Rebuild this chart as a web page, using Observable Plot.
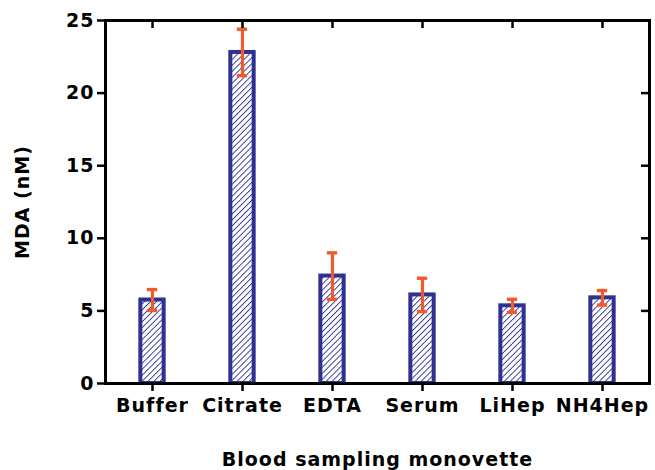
<!DOCTYPE html>
<html>
<head>
<meta charset="utf-8">
<script src="https://cdn.jsdelivr.net/npm/d3@7"></script>
<script src="https://cdn.jsdelivr.net/npm/@observablehq/plot@0.6"></script>
<style>
  html, body { margin: 0; padding: 0; background: #fff; }
</style>
</head>
<body>
<div id="chart"></div>
<script>
const categories = ["Buffer", "Citrate", "EDTA", "Serum", "LiHep", "NH4Hep"];
const means = [5.75, 22.8, 7.4, 6.1, 5.35, 5.9];
const errors = [0.72, 1.6, 1.6, 1.15, 0.45, 0.5];
const yTicks = [0, 5, 10, 15, 20, 25];

const data = categories.map((c, i) => ({cat: c, v: means[i], e: errors[i]}));

const blue = "#2e3192";
const orange = "#f15a29";
const W = 655, H = 470, mL = 105, mR = 6, mT = 20, mB = 87;
const step = (W - mL - mR) / categories.length;
const barInset = (step - 24) / 2;
const capInset = (step - 11) / 2;

const chart = Plot.plot({
  width: W,
  height: H,
  marginLeft: mL,
  marginRight: mR,
  marginTop: mT,
  marginBottom: mB,
  style: {fontFamily: "DejaVu Sans", fontWeight: "bold", fontSize: "19px", letterSpacing: "1px", color: "black", background: "white"},
  x: {domain: categories, padding: 0},
  y: {domain: [0, 25]},
  marks: [
    Plot.barY(data, {x: "cat", y: "v", fill: "url(#hatch)", stroke: blue, strokeWidth: 4, insetLeft: barInset, insetRight: barInset}),
    Plot.ruleX(data, {x: "cat", y1: d => d.v - d.e, y2: d => d.v + d.e, stroke: orange, strokeWidth: 3.2}),
    Plot.tickY(data, {x: "cat", y: d => d.v + d.e, stroke: orange, strokeWidth: 3.4, insetLeft: capInset, insetRight: capInset}),
    Plot.tickY(data, {x: "cat", y: d => d.v - d.e, stroke: orange, strokeWidth: 3.4, insetLeft: capInset, insetRight: capInset}),
    Plot.frame({stroke: "black", strokeWidth: 3}),
    Plot.tickY(yTicks, {y: d => d, stroke: "black", strokeWidth: 2.5, insetLeft: W - mL - mR - 8}),
    Plot.tickX(categories, {x: d => d, stroke: "black", strokeWidth: 2.5, insetBottom: H - mT - mB - 8}),
    Plot.axisY({ticks: yTicks, tickSize: 8, tickPadding: 3, strokeWidth: 2.5, fontSize: 19, fontWeight: "bold",
      label: "MDA (nM)", labelAnchor: "center", labelArrow: "none", labelOffset: 90}),
    Plot.axisX({tickSize: 8, tickPadding: 7, strokeWidth: 2.5, fontSize: 19, fontWeight: "bold",
      label: "Blood sampling monovette", labelAnchor: "center", labelArrow: "none", labelOffset: 82})
  ]
});

const svg = d3.select(chart);
const defs = svg.insert("defs", ":first-child");
const pat = defs.append("pattern")
  .attr("id", "hatch")
  .attr("patternUnits", "userSpaceOnUse")
  .attr("width", 4.2)
  .attr("height", 4.2)
  .attr("patternTransform", "rotate(45)");
pat.append("rect").attr("width", 4.2).attr("height", 4.2).attr("fill", "white");
pat.append("line").attr("x1", 0).attr("y1", 0).attr("x2", 0).attr("y2", 4.2)
  .attr("stroke", blue).attr("stroke-width", 1.8);

document.getElementById("chart").appendChild(chart);
</script>
</body>
</html>
